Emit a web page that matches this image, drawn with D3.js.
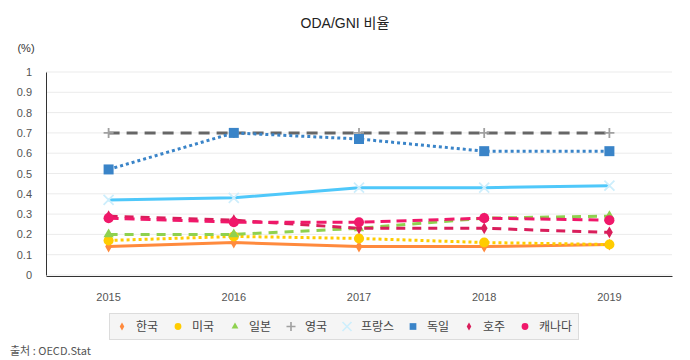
<!DOCTYPE html>
<html><head><meta charset="utf-8">
<script src="https://cdn.jsdelivr.net/npm/d3@7"></script>
<style>body{margin:0;background:#fff;font-family:Arial,"Liberation Sans","Noto Sans CJK KR",sans-serif}</style>
</head><body><svg id="c" width="690" height="360"></svg>
<script>
const years = ["2015","2016","2017","2018","2019"];
const yTicks = [0,0.1,0.2,0.3,0.4,0.5,0.6,0.7,0.8,0.9,1];
const korea = [0.14,0.16,0.14,0.14,0.15];
const usa = [0.17,0.19,0.18,0.16,0.15];
const japan = [0.20,0.20,0.23,0.28,0.29];
const uk = [0.70,0.70,0.70,0.70,0.70];
const france = [0.37,0.38,0.43,0.43,0.44];
const germany = [0.52,0.70,0.67,0.61,0.61];
const australia = [0.29,0.27,0.23,0.23,0.21];
const canada = [0.28,0.26,0.26,0.28,0.27];

const series = [
 {name:"한국", values:korea, color:"#ff8a3d", mcolor:"#ff8a3d", dash:null, sym:"diamond", ms:40},
 {name:"미국", values:usa, color:"#ffcc00", mcolor:"#ffcc00", dash:"3,3", sym:"circle", ms:80},
 {name:"일본", values:japan, color:"#8fd14f", mcolor:"#8fd14f", dash:"9,7", sym:"triangle", ms:45},
 {name:"영국", values:uk, color:"#666666", mcolor:"#a0a0a0", dash:"11,7", sym:"plus", ms:0},
 {name:"프랑스", values:france, color:"#4fc8fa", mcolor:"#cdeefc", dash:null, sym:"x", ms:0},
 {name:"독일", values:germany, color:"#3a84c8", mcolor:"#3a84c8", dash:"3,3", sym:"square", ms:100},
 {name:"호주", values:australia, color:"#d91e5b", mcolor:"#d91e5b", dash:"9,7", sym:"diamond", ms:40},
 {name:"캐나다", values:canada, color:"#f0186a", mcolor:"#f0186a", dash:"10,6", sym:"circle", ms:80}
];

const svg = d3.select("#c");
const pLeft=46, pRight=672, pTop=72, pBottom=275;
const x = d3.scaleBand().domain(years).range([pLeft,pRight]);
const y = d3.scaleLinear().domain([0,1]).range([pBottom,pTop]);

svg.append("text").attr("x",345).attr("y",28).attr("text-anchor","middle")
  .attr("font-size",14).attr("fill","#222").text("ODA/GNI 비율");
svg.append("text").attr("x",26).attr("y",52).attr("text-anchor","middle")
  .attr("font-size",11).attr("fill","#333").text("(%)");

svg.append("g").selectAll("line").data(yTicks).join("line")
  .attr("x1",pLeft).attr("x2",pRight).attr("y1",d=>y(d)).attr("y2",d=>y(d))
  .attr("stroke","#ebebeb").attr("stroke-width",1);

const ya = svg.append("g").attr("transform",`translate(${pLeft},0)`)
  .call(d3.axisLeft(y).tickValues(yTicks).tickSize(0).tickPadding(14).tickFormat(d=>String(+d.toFixed(1))));
ya.select(".domain").attr("stroke","#333");
ya.selectAll("text").attr("font-size",11).attr("fill","#555").attr("font-family","Arial,'Liberation Sans',sans-serif");

const xa = svg.append("g").attr("transform",`translate(0,${pBottom+1})`)
  .call(d3.axisBottom(x).tickSize(0).tickPadding(17));
xa.select(".domain").attr("stroke","#333");
xa.selectAll("text").attr("font-size",11).attr("fill","#555").attr("font-family","Arial,'Liberation Sans',sans-serif");

const cx = d=>x(d)+x.bandwidth()/2;
const line = d3.line().x((v,i)=>cx(years[i])).y(v=>y(v));

function drawSym(g, s, px, py, scale){
  const k = scale||1;
  if(s.sym==="plus"){
    const r=5*k;
    g.append("path").attr("d",`M${px-r},${py}H${px+r}M${px},${py-r}V${py+r}`)
      .attr("stroke",s.mcolor).attr("stroke-width",1.8*k).attr("fill","none");
  } else if(s.sym==="x"){
    const r=5*k;
    g.append("path").attr("d",`M${px-r},${py-r}L${px+r},${py+r}M${px+r},${py-r}L${px-r},${py+r}`)
      .attr("stroke",s.mcolor).attr("stroke-width",1.8*k).attr("fill","none");
  } else {
    const t = {circle:d3.symbolCircle,square:d3.symbolSquare,triangle:d3.symbolTriangle,diamond:d3.symbolDiamond}[s.sym];
    g.append("path").attr("d",d3.symbol(t,s.ms*k*k)()).attr("transform",`translate(${px},${py})`)
      .attr("fill",s.mcolor);
  }
}

const plot = svg.append("g");
series.forEach(s=>{
  plot.append("path").attr("d",line(s.values)).attr("fill","none")
    .attr("stroke",s.color).attr("stroke-width",3)
    .attr("stroke-dasharray",s.dash);
});
series.forEach(s=>{
  const g = plot.append("g");
  s.values.forEach((v,i)=>drawSym(g,s,cx(years[i]),y(v),1));
});

const lg = svg.append("g");
lg.append("rect").attr("x",109.5).attr("y",313.5).attr("width",469).attr("height",26)
  .attr("fill","#f5f5f5").attr("stroke","#dcdcdc");
const lx = [122,178,235,291,347,413,469,525];
series.forEach((s,i)=>{
  const ls = Object.assign({},s,{ms: s.ms*0.45});
  drawSym(lg, ls, lx[i], 326.5, s.sym==="plus"||s.sym==="x"?0.9:1);
  lg.append("text").attr("x",lx[i]+14).attr("y",331).attr("font-size",12).attr("fill","#444")
    .attr("font-family","'Noto Sans CJK KR',sans-serif").text(s.name);
});

svg.append("text").attr("x",10).attr("y",355).attr("font-size",11).attr("fill","#555")
  .attr("font-family","'Noto Sans CJK KR',sans-serif").text("출처 : OECD.Stat");
</script></body></html>
